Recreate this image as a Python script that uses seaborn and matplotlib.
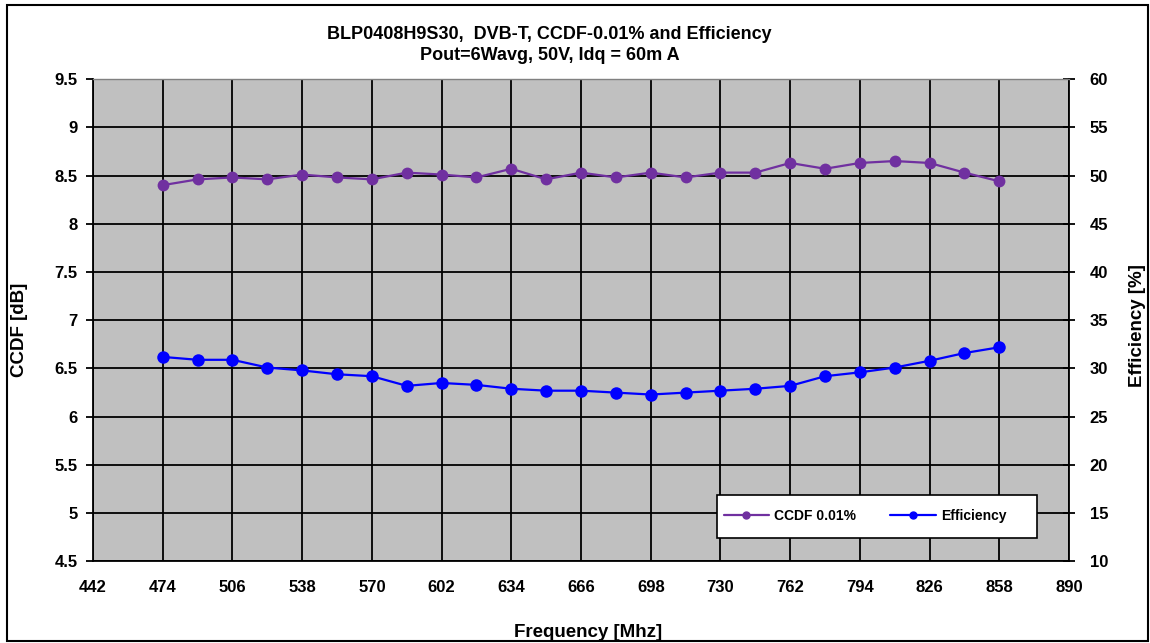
"""
BLP0408H9S30 DVB-T: CCDF-0.01% and drain efficiency vs frequency
Pout = 6 W avg, 50 V, Idq = 60 mA
"""

import numpy as np
import pandas as pd
import matplotlib.pyplot as plt
import seaborn as sns
from matplotlib.lines import Line2D
from matplotlib.patches import Rectangle

sns.set_theme(style="white")
plt.rcParams["font.family"] = ["Liberation Sans", "DejaVu Sans"]
plt.rcParams["font.weight"] = "bold"
for key in ("text.color", "axes.labelcolor", "xtick.color", "ytick.color"):
    plt.rcParams[key] = "black"

# ----------------------------------------------------------------------------
# DATA
# ----------------------------------------------------------------------------
freq_mhz = [474, 490, 506, 522, 538, 554, 570, 586, 602, 618, 634, 650, 666,
            682, 698, 714, 730, 746, 762, 778, 794, 810, 826, 842, 858]
ccdf_db = [8.40, 8.46, 8.48, 8.46, 8.51, 8.48, 8.46, 8.53, 8.51, 8.48, 8.57,
           8.46, 8.53, 8.48, 8.53, 8.48, 8.53, 8.53, 8.63, 8.57, 8.63, 8.65,
           8.63, 8.53, 8.44]
efficiency_pct = [31.2, 30.9, 30.9, 30.1, 29.8, 29.4, 29.2, 28.2, 28.5, 28.3,
                  27.9, 27.7, 27.7, 27.5, 27.3, 27.5, 27.7, 27.9, 28.2, 29.2,
                  29.6, 30.1, 30.8, 31.6, 32.2]

x_ticks = [442, 474, 506, 538, 570, 602, 634, 666, 698, 730, 762, 794, 826,
           858, 890]
ccdf_ticks = [4.5, 5, 5.5, 6, 6.5, 7, 7.5, 8, 8.5, 9, 9.5]
eff_ticks = [10, 15, 20, 25, 30, 35, 40, 45, 50, 55, 60]

df = pd.DataFrame({"Freq": freq_mhz, "CCDF": ccdf_db, "Eff": efficiency_pct})

PURPLE = "#7030A0"
BLUE = "#0000FF"

# ----------------------------------------------------------------------------
# FIGURE
# ----------------------------------------------------------------------------
fig = plt.figure(figsize=(11.5, 6.43), dpi=100)
ax = fig.add_axes([0.0809, 0.1268, 0.9296 - 0.0809, 0.8771 - 0.1268])
ax.set_facecolor("#C0C0C0")
ax2 = ax.twinx()

sns.lineplot(data=df, x="Freq", y="CCDF", ax=ax, color=PURPLE, marker="o",
             markersize=8.5, markeredgewidth=0, linewidth=1.6)
sns.lineplot(data=df, x="Freq", y="Eff", ax=ax2, color=BLUE, marker="o",
             markersize=9, markeredgewidth=0, linewidth=1.6)

ax.set_xlim(442, 890)
ax.set_ylim(4.5, 9.5)
ax2.set_ylim(10, 60)
ax.set_xticks(x_ticks)
ax.set_yticks(ccdf_ticks)
ax.set_yticklabels([f"{v:g}" for v in ccdf_ticks])
ax2.set_yticks(eff_ticks)

ax.grid(True, color="black", linewidth=1.3)
ax2.grid(False)
ax.set_axisbelow(True)

for a in (ax, ax2):
    for s in a.spines.values():
        s.set_visible(False)
for side in ("left", "bottom"):
    ax.spines[side].set_visible(True)
    ax.spines[side].set_color("black")
    ax.spines[side].set_linewidth(1.3)
ax2.spines["right"].set_visible(True)
ax2.spines["right"].set_color("black")
ax2.spines["right"].set_linewidth(1.3)
ax2.spines["top"].set_visible(True)
ax2.spines["top"].set_color("#808080")
ax2.spines["top"].set_linewidth(1.0)

ax.tick_params(axis="both", direction="out", length=5, width=1.3,
               color="black", labelsize=12, pad=6)
ax.tick_params(axis="x", pad=8)
ax2.tick_params(axis="y", direction="inout", length=9, width=1.3,
                color="black", labelsize=12, pad=10.5)
for lbl in ax.get_xticklabels() + ax.get_yticklabels() + ax2.get_yticklabels():
    lbl.set_fontweight("bold")

ax.set_xlabel("")
ax.set_ylabel("")
ax2.set_ylabel("")

# ----------------------------------------------------------------------------
# TEXT
# ----------------------------------------------------------------------------
fig.text(0.478, 0.947, "BLP0408H9S30,  DVB-T, CCDF-0.01% and Efficiency",
         ha="center", va="center", fontsize=13, fontweight="bold")
fig.text(0.478, 0.913, "Pout=6Wavg, 50V, Idq = 60m A",
         ha="center", va="center", fontsize=13, fontweight="bold")
fig.text(0.511, 0.017, "Frequency [Mhz]", ha="center", va="center",
         fontsize=13.5, fontweight="bold")
fig.text(0.017, 0.487, "CCDF [dB]", ha="center", va="center", rotation=90,
         fontsize=13.5, fontweight="bold")
fig.text(0.9887, 0.493, "Efficiency [%]", ha="center", va="center",
         rotation=90, fontsize=13.5, fontweight="bold")

# ----------------------------------------------------------------------------
# LEGEND  (white box drawn separately so its size matches the Excel one)
# ----------------------------------------------------------------------------
ax2.add_patch(Rectangle((0.639, 0.049), 0.328, 0.089, transform=ax2.transAxes,
                        facecolor="white", edgecolor="black", linewidth=1.2,
                        zorder=4))
handles = [
    Line2D([], [], color=PURPLE, marker="o", markersize=5, linewidth=1.6),
    Line2D([], [], color=BLUE, marker="o", markersize=5, linewidth=1.6),
]
leg = ax2.legend(handles, ["CCDF 0.01%", "Efficiency"], ncol=2,
                 loc="center left", bbox_to_anchor=(0.646, 0.0935),
                 frameon=False, prop={"size": 10, "weight": "bold"},
                 handlelength=3.3, handletextpad=0.36, borderpad=0,
                 columnspacing=2.45, borderaxespad=0)
leg.set_zorder(5)

# outer chart border
fig.patches.append(Rectangle((0.006, 0.003), 0.992, 0.989, transform=fig.transFigure,
                             fill=False, edgecolor="black", linewidth=1.5))

fig.savefig("out.png", dpi=100)
plt.close(fig)
